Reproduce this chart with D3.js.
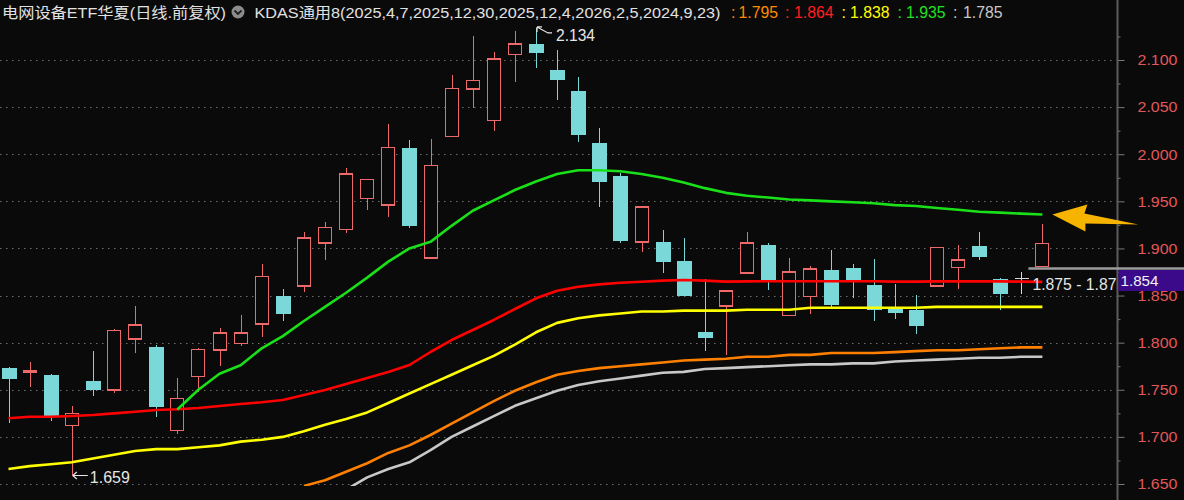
<!DOCTYPE html>
<html><head><meta charset="utf-8">
<script src="https://cdn.jsdelivr.net/npm/d3@7"></script>
<style>html,body{margin:0;padding:0;background:#0a0a0a;overflow:hidden}</style>
</head><body><svg id="c" width="1184" height="500"></svg>
<script>
// ---- data ----
const openP  = [1.773,1.769,1.766,1.712,1.759,1.750,1.804,1.795,1.707,1.764,
                1.792,1.799,1.820,1.849,1.860,1.906,1.920,1.953,1.946,2.007,
                1.890,2.019,2.069,2.036,2.106,2.117,2.089,2.067,2.012,1.977,
                1.907,1.907,1.887,1.811,1.839,1.874,1.904,1.829,1.849,1.877,
                1.879,1.861,1.837,1.835,1.860,1.880,1.903,1.868,1.868,1.881];
const highP  = [1.774,1.779,1.767,1.733,1.791,1.814,1.839,1.798,1.762,1.794,
                1.816,1.829,1.883,1.857,1.917,1.928,1.985,1.974,2.032,2.015,
                2.016,2.084,2.126,2.108,2.131,2.134,2.111,2.082,2.028,1.980,
                1.945,1.920,1.911,1.868,1.855,1.917,1.906,1.890,1.881,1.898,
                1.883,1.889,1.862,1.851,1.902,1.904,1.917,1.869,1.875,1.926];
const lowP   = [1.715,1.753,1.717,1.659,1.743,1.747,1.789,1.721,1.703,1.748,
                1.775,1.796,1.806,1.823,1.854,1.888,1.916,1.941,1.933,1.922,
                1.889,2.018,2.049,2.025,2.077,2.092,2.058,2.013,1.944,1.906,
                1.896,1.874,1.849,1.791,1.787,1.873,1.856,1.828,1.830,1.838,
                1.847,1.823,1.825,1.809,1.860,1.857,1.888,1.835,1.852,1.880];
const closeP = [1.761,1.770,1.721,1.725,1.750,1.813,1.819,1.732,1.741,1.793,
                1.810,1.810,1.870,1.830,1.911,1.922,1.979,1.973,2.007,1.924,
                1.988,2.070,2.078,2.101,2.117,2.107,2.079,2.020,1.971,1.908,
                1.944,1.886,1.850,1.805,1.855,1.906,1.866,1.875,1.878,1.840,
                1.866,1.835,1.832,1.818,1.901,1.888,1.891,1.852,1.868,1.905];

// KDAS lines (null = not started)
const kdasOrange = [null,null,null,null,null,null,null,null,null,null,null,null,null,null,
  1.648,1.654,1.663,1.672,1.683,1.691,1.702,1.714,1.726,1.738,1.749,1.758,1.766,1.770,1.773,1.775,
  1.777,1.779,1.781,1.782,1.783,1.785,1.785,1.787,1.787,1.789,1.789,1.789,1.790,1.791,1.792,1.792,
  1.793,1.794,1.795,1.795];
const kdasRed = [1.7197,1.7214,1.7214,1.7222,1.7232,1.7250,1.7267,1.7285,1.7293,1.7307,
  1.7328,1.7349,1.7367,1.7392,1.7445,1.7498,1.7561,1.7625,1.7689,1.7763,
  1.7901,1.8028,1.8134,1.8241,1.8357,1.8471,1.8552,1.8594,1.8619,1.8636,
  1.8647,1.8658,1.8665,1.8658,1.8648,1.8650,1.8652,1.8652,1.8652,1.8652,
  1.8652,1.8652,1.8648,1.8648,1.8650,1.8650,1.8650,1.8650,1.8648,1.8645];
const kdasYellow = [1.666,1.669,1.671,1.673,1.677,1.681,1.685,1.687,1.687,1.689,
  1.691,1.695,1.697,1.700,1.706,1.713,1.719,1.726,1.736,1.746,
  1.756,1.766,1.776,1.786,1.798,1.811,1.821,1.826,1.829,1.831,
  1.833,1.833,1.834,1.834,1.834,1.835,1.835,1.835,1.837,1.837,
  1.837,1.837,1.837,1.837,1.838,1.838,1.838,1.838,1.838,1.838];
const kdasGreen = [null,null,null,null,null,null,null,null,
  1.729,1.750,1.767,1.776,1.794,1.807,1.823,1.838,1.853,1.869,1.886,1.900,
  1.907,1.924,1.940,1.951,1.962,1.971,1.979,1.983,1.983,1.982,
  1.979,1.975,1.970,1.964,1.959,1.956,1.954,1.952,1.951,1.950,
  1.949,1.948,1.946,1.945,1.943,1.941,1.939,1.938,1.937,1.936];
const kdasGray = [null,null,null,null,null,null,null,null,null,null,null,null,null,null,null,null,
  1.644,1.657,1.666,1.673,1.686,1.700,1.711,1.722,1.733,1.741,1.749,1.755,1.759,1.762,
  1.765,1.768,1.769,1.772,1.773,1.774,1.775,1.776,1.777,1.777,1.778,1.778,1.780,1.781,
  1.782,1.783,1.784,1.784,1.785,1.785];

const yTickValues = [1.65,1.70,1.75,1.80,1.85,1.90,1.95,2.00,2.05,2.10];
const yTickLabels = ["1.650","1.700","1.750","1.800","1.850","1.900","1.950","2.000","2.050","2.100"];
const yMinorTicks = [1.675,1.725,1.775,1.825,1.875,1.925,1.975,2.025,2.075,2.125];

const titleText = "电网设备ETF华夏(日线.前复权)";
const indicatorText = "KDAS通用8(2025,4,7,2025,12,30,2025,12,4,2026,2,5,2024,9,23)";
const legendValues = ["1.795","1.864","1.838","1.935","1.785"];
const legendColors = ["#ff8a00","#ff1f1f","#ffff00","#22e022","#c8c8c8"];
const cursorLevel = 1.878, cursorLabel = "1.875 - 1.87", boxLabel = "1.854";

// ---- setup ----
const W = 1184, H = 500, axisX = 1117.5;
const svg = d3.select("#c");
const idx = d3.range(openP.length);
const x = d3.scaleLinear().domain([0, openP.length - 1]).range([8.5, 1042.4]);
const y = d3.scaleLinear().domain([1.65, 2.10]).range([484, 60]);
const NUM = "'Liberation Sans', Arial, sans-serif";
const CJK = "'Liberation Sans','Noto Sans CJK SC', sans-serif";

svg.append("rect").attr("width", W).attr("height", H).attr("fill", "#0a0a0a");

const defs = svg.append("defs");
defs.append("clipPath").attr("id", "plotClip").append("rect")
  .attr("x", 0).attr("y", 24).attr("width", axisX - 1).attr("height", 462);

// grid
svg.append("g").selectAll("line").data(yTickValues).join("line")
  .attr("x1", 0).attr("x2", axisX - 1)
  .attr("y1", d => Math.round(y(d)) + 0.5).attr("y2", d => Math.round(y(d)) + 0.5)
  .attr("stroke", "#6e6e6e").attr("stroke-width", 1).attr("stroke-dasharray", "1.5,4.5");

// axis
const axisG = svg.append("g").attr("transform", `translate(${axisX},0)`);
axisG.call(d3.axisRight(y).tickValues(yTickValues).tickSize(7).tickPadding(13)
  .tickFormat((d, i) => yTickLabels[i]));
axisG.select(".domain").remove();
axisG.selectAll(".tick line").attr("stroke", "#7a7a7a");
axisG.selectAll(".tick text").attr("fill", "#e25858").attr("font-family", NUM)
  .attr("font-size", 15).attr("textLength", 40).attr("lengthAdjust", "spacingAndGlyphs");
const minorG = svg.append("g").attr("transform", `translate(${axisX},0)`);
minorG.call(d3.axisRight(y).tickValues(yMinorTicks).tickSize(3).tickFormat(""));
minorG.select(".domain").remove();
minorG.selectAll(".tick line").attr("stroke", "#7a7a7a");
svg.append("line").attr("x1", axisX).attr("x2", axisX).attr("y1", 0).attr("y2", H)
  .attr("stroke", "#5c5c5c").attr("stroke-width", 2);

// plot
const plot = svg.append("g").attr("clip-path", "url(#plotClip)");
const UP = "#ec6a6a", DOWN = "#7ad8d8", FLAT = "#d8d8d8";
const bw = 14;
const cg = plot.append("g").attr("shape-rendering", "crispEdges");
idx.forEach(i => {
  const o = openP[i], c = closeP[i], h = highP[i], l = lowP[i];
  const cx = Math.round(x(i)) + 0.5;
  if (c > o) {
    const top = y(c), bot = y(o);
    cg.append("line").attr("x1", cx).attr("x2", cx).attr("y1", y(h)).attr("y2", top).attr("stroke", UP).attr("stroke-width", 1.5);
    cg.append("line").attr("x1", cx).attr("x2", cx).attr("y1", bot).attr("y2", y(l)).attr("stroke", UP).attr("stroke-width", 1.5);
    cg.append("rect").attr("x", cx - bw / 2).attr("y", top).attr("width", bw - 1)
      .attr("height", Math.max(1, bot - top)).attr("fill", "#0a0a0a").attr("stroke", UP).attr("stroke-width", 1.5);
  } else if (c < o) {
    const top = y(o), bot = y(c);
    cg.append("line").attr("x1", cx).attr("x2", cx).attr("y1", y(h)).attr("y2", y(l)).attr("stroke", DOWN).attr("stroke-width", 1.5);
    cg.append("rect").attr("x", cx - bw / 2 - 0.5).attr("y", top).attr("width", bw + 0.5)
      .attr("height", Math.max(1.5, bot - top)).attr("fill", DOWN);
  } else {
    cg.append("line").attr("x1", cx).attr("x2", cx).attr("y1", y(h)).attr("y2", y(l)).attr("stroke", FLAT).attr("stroke-width", 1.5);
    cg.append("line").attr("x1", cx - bw / 2).attr("x2", cx + bw / 2).attr("y1", y(o)).attr("y2", y(o)).attr("stroke", FLAT).attr("stroke-width", 1.5);
  }
});

// KDAS lines
const lineGen = d3.line().defined(d => d != null).x((d, i) => x(i)).y(d => y(d));
const series = [
  {v: kdasGray, c: "#c8c8c8"},
  {v: kdasOrange, c: "#ff8000"},
  {v: kdasYellow, c: "#ffff00"},
  {v: kdasRed, c: "#ff0000"},
  {v: kdasGreen, c: "#19e019"}
];
series.forEach(s => {
  plot.append("path").attr("d", lineGen(s.v)).attr("fill", "none")
    .attr("stroke", s.c).attr("stroke-width", 2.6).attr("stroke-linejoin", "round");
});

// extreme annotations
const hiIdx = d3.maxIndex(highP), loIdx = d3.minIndex(lowP);
{
  const ax = x(hiIdx), ay = y(highP[hiIdx]);
  svg.append("path").attr("d", `M${ax + 1},${ay - 1} L${ax + 1},${ay + 4} M${ax + 1},${ay - 1} L${ax + 6},${ay - 1} M${ax + 1},${ay - 1} L${ax + 12},${ay + 5} L${ax + 16},${ay + 5}`)
    .attr("stroke", "#e6e6e6").attr("stroke-width", 1.2).attr("fill", "none");
  svg.append("text").attr("x", ax + 20).attr("y", ay + 13).text(d3.format(".3f")(highP[hiIdx]))
    .attr("fill", "#e6e6e6").attr("font-family", NUM).attr("font-size", 17)
    .attr("textLength", 39).attr("lengthAdjust", "spacingAndGlyphs");
}
{
  const ax = x(loIdx), ay = y(lowP[loIdx]);
  svg.append("path").attr("d", `M${ax + 1},${ay} L${ax + 16},${ay} M${ax + 1},${ay} L${ax + 5},${ay - 3.5} M${ax + 1},${ay} L${ax + 5},${ay + 3.5}`)
    .attr("stroke", "#e6e6e6").attr("stroke-width", 1.2).attr("fill", "none");
  svg.append("text").attr("x", ax + 18).attr("y", ay + 7).text(d3.format(".3f")(lowP[loIdx]))
    .attr("fill", "#e6e6e6").attr("font-family", NUM).attr("font-size", 16.5)
    .attr("textLength", 40).attr("lengthAdjust", "spacingAndGlyphs");
}

// cursor line, labels
const lastX = x(openP.length - 1);
const cy = Math.round(y(cursorLevel)) - 0.5;
svg.append("line").attr("x1", lastX - 14).attr("x2", W).attr("y1", cy).attr("y2", cy)
  .attr("stroke", "#9c9c9c").attr("stroke-width", 2.5);
svg.append("rect").attr("x", axisX + 1).attr("y", cy + 1.5).attr("width", W - axisX).attr("height", 21)
  .attr("fill", "#3a0a8a");
svg.append("text").attr("x", axisX + 3).attr("y", cy + 17).text(boxLabel)
  .attr("fill", "#f0f0f0").attr("font-family", NUM).attr("font-size", 15)
  .attr("textLength", 38).attr("lengthAdjust", "spacingAndGlyphs");
svg.append("g").attr("clip-path", "url(#plotClip)").append("text")
  .attr("x", lastX - 10).attr("y", cy + 21).text(cursorLabel)
  .attr("fill", "#e6e6e6").attr("font-family", NUM).attr("font-size", 16.5)
  .attr("textLength", 84).attr("lengthAdjust", "spacingAndGlyphs");

// big arrow pointing at green line end
{
  const tx = lastX + 10, ty = y(kdasGreen[kdasGreen.length - 1]);
  const pts = [[tx, ty], [tx + 35, ty - 10], [tx + 32, ty - 1], [tx + 86, ty + 10], [tx + 33, ty + 9], [tx + 33, ty + 17]];
  svg.append("path").attr("d", d3.line()(pts) + "Z").attr("fill", "#f6b400");
}

// header
const hy = 18;
svg.append("text").attr("x", 2).attr("y", hy).text(titleText)
  .attr("fill", "#e2e2e2").attr("font-family", CJK).attr("font-size", 15)
  .attr("textLength", 224).attr("lengthAdjust", "spacingAndGlyphs");
svg.append("circle").attr("cx", 238).attr("cy", 12).attr("r", 6.5).attr("fill", "#8c8c8c");
svg.append("path").attr("d", "M234.5,10.5 L238,14 L241.5,10.5").attr("fill", "none")
  .attr("stroke", "#202020").attr("stroke-width", 1.8);
svg.append("text").attr("x", 254.5).attr("y", hy).text(indicatorText)
  .attr("fill", "#e2e2e2").attr("font-family", CJK).attr("font-size", 15)
  .attr("textLength", 466).attr("lengthAdjust", "spacingAndGlyphs");
const colonX = [731, 785, 841.5, 897.5, 953];
const numX = [738.5, 794, 850, 906, 963];
legendValues.forEach((v, i) => {
  svg.append("text").attr("x", colonX[i]).attr("y", hy).text(":")
    .attr("fill", legendColors[i]).attr("font-family", NUM).attr("font-size", 16);
  svg.append("text").attr("x", numX[i]).attr("y", hy).text(v)
    .attr("fill", legendColors[i]).attr("font-family", NUM).attr("font-size", 16)
    .attr("textLength", 39.5).attr("lengthAdjust", "spacingAndGlyphs");
});
</script></body></html>
